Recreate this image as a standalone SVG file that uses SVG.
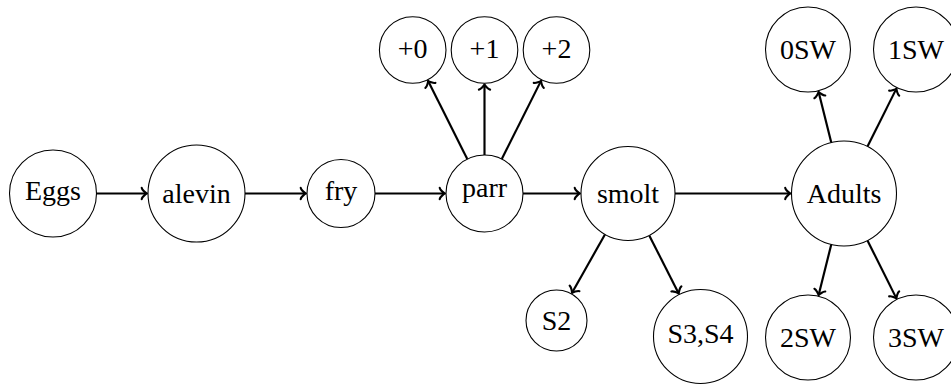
<svg xmlns="http://www.w3.org/2000/svg" width="951" height="385" viewBox="0 0 951 385">
<style>
.n circle{fill:#fff;stroke:#000;stroke-width:1.08}
.n text{font-family:"Liberation Serif","DejaVu Serif",serif;font-size:28px;fill:#000;text-anchor:middle}
#edges line{stroke:#000;stroke-width:2.16;marker-end:url(#arr)}
</style>
<defs>
<marker id="arr" markerUnits="userSpaceOnUse" viewBox="-10 -10 20 20" refX="0" refY="0" markerWidth="20" markerHeight="20" orient="auto" overflow="visible">
<path d="M-4.2,5.6 C-3.85,3.5 0,0.35 1.05,0 C0,-0.35 -3.85,-3.5 -4.2,-5.6" fill="none" stroke="#000" stroke-width="2.16" stroke-linecap="round" stroke-linejoin="round"/>
</marker>
</defs>
<rect width="951" height="385" fill="#fff"/>
<g id="edges">
<line x1="96.5" y1="193.5" x2="145.9" y2="193.5"/>
<line x1="245" y1="193.5" x2="304.9" y2="193.5"/>
<line x1="375" y1="193.5" x2="443.9" y2="193.5"/>
<line x1="523" y1="193.5" x2="578.9" y2="193.5"/>
<line x1="675" y1="193.5" x2="789.4" y2="193.5"/>
<line x1="467.27" y1="159.07" x2="428.54" y2="81.66"/>
<line x1="484.5" y1="155" x2="484.5" y2="85.4"/>
<line x1="501.77" y1="159.09" x2="540.63" y2="81.64"/>
<line x1="604.94" y1="234.46" x2="572.49" y2="292.09"/>
<line x1="649.25" y1="235.42" x2="678.3" y2="292.71"/>
<line x1="831.27" y1="142.57" x2="818.82" y2="92.77"/>
<line x1="867.48" y1="146.54" x2="896.05" y2="89.39"/>
<line x1="831.27" y1="244.43" x2="818.82" y2="294.23"/>
<line x1="867.48" y1="240.46" x2="896.05" y2="297.61"/>
</g>
<g id="eggs" class="n"><circle cx="53" cy="193.5" r="43.5"/><text x="53" y="200.1">Eggs</text></g>
<g id="alevin" class="n"><circle cx="196.5" cy="193.5" r="48.5"/><text x="196.5" y="202.9">alevin</text></g>
<g id="fry" class="n"><circle cx="341" cy="193.5" r="34"/><text x="341" y="200.3">fry</text></g>
<g id="parr" class="n"><circle cx="484.5" cy="193.5" r="38.5"/><text x="484.5" y="196.7">parr</text></g>
<g id="smolt" class="n"><circle cx="628" cy="193.5" r="47"/><text x="628" y="202.9">smolt</text></g>
<g id="adults" class="n"><circle cx="844" cy="193.5" r="52.5"/><text x="844" y="202.9">Adults</text></g>
<g id="p0" class="n"><circle cx="412.7" cy="50" r="33.3"/><text x="412.7" y="57.6">+0</text></g>
<g id="p1" class="n"><circle cx="484.5" cy="50" r="33.3"/><text x="484.5" y="57.6">+1</text></g>
<g id="p2" class="n"><circle cx="556.5" cy="50" r="33.3"/><text x="556.5" y="57.6">+2</text></g>
<g id="sw0" class="n"><circle cx="808" cy="49.5" r="42.5"/><text x="808" y="58.7">0SW</text></g>
<g id="sw1" class="n"><circle cx="916" cy="49.5" r="42.5"/><text x="916" y="58.7">1SW</text></g>
<g id="s2" class="n"><circle cx="556.5" cy="320.5" r="30.5"/><text x="556.5" y="329.7">S2</text></g>
<g id="s34" class="n"><circle cx="700.5" cy="336.5" r="47"/><text x="700.5" y="343.4">S3,S4</text></g>
<g id="sw2" class="n"><circle cx="808" cy="337.5" r="42.5"/><text x="808" y="346.7">2SW</text></g>
<g id="sw3" class="n"><circle cx="916" cy="337.5" r="42.5"/><text x="916" y="346.7">3SW</text></g>
</svg>
